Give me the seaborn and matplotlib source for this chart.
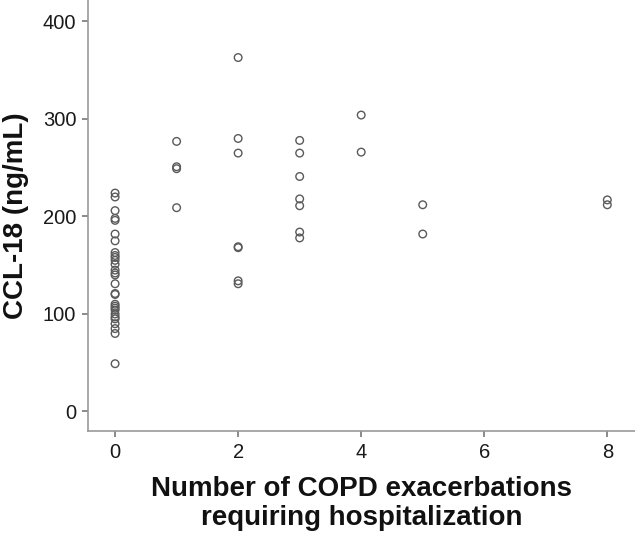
import matplotlib
matplotlib.use("Agg")
import matplotlib.pyplot as plt
import seaborn as sns
import pandas as pd

exac_0 = [224, 220, 206, 198, 196, 182, 175, 163, 160, 158, 155, 151, 145, 142, 140,
          131, 121, 120, 110, 108, 106, 104, 100, 97, 95, 90, 85, 80, 49]
exac_1 = [277, 251, 249, 209]
exac_2 = [363, 280, 265, 169, 168, 134, 131]
exac_3 = [278, 265, 241, 218, 211, 184, 178]
exac_4 = [304, 266]
exac_5 = [212, 182]
exac_8 = [217, 212]

groups = {0: exac_0, 1: exac_1, 2: exac_2, 3: exac_3, 4: exac_4, 5: exac_5, 8: exac_8}
rows = [(k, v) for k, vals in groups.items() for v in vals]
df = pd.DataFrame(rows, columns=["exacerbations", "ccl18"])

sns.set_style("white")
plt.rcParams['font.family'] = ['Liberation Sans', 'DejaVu Sans']

fig = plt.figure(figsize=(6.35, 5.36), dpi=100)
ax = fig.add_axes([0.1386, 0.195, 0.8614, 0.805])

sns.scatterplot(data=df, x="exacerbations", y="ccl18", ax=ax,
                marker="o", s=30, facecolor="none", edgecolor="#5a5a5a",
                linewidth=1.0)

ax.set_xlim(-0.44, 8.45)
ax.set_ylim(-20.5, 422)
ax.set_xticks([0, 2, 4, 6, 8])
ax.set_yticks([0, 100, 200, 300, 400])

for side in ["top", "right"]:
    ax.spines[side].set_visible(False)
for side in ["left", "bottom"]:
    ax.spines[side].set_color("#999999")
    ax.spines[side].set_linewidth(1.2)

ax.tick_params(axis="both", which="major", direction="out", length=4.5, width=1.2,
               color="#777777", labelsize=14.5, labelcolor="#1a1a1a", pad=4,
               left=True, bottom=True)

ax.set_xlabel("Number of COPD exacerbations\nrequiring hospitalization",
              fontsize=20, fontweight="bold", color="#111111", linespacing=1.15, labelpad=10)
ax.set_ylabel("CCL-18 (ng/mL)", fontsize=20, fontweight="bold", color="#111111", labelpad=10)

fig.savefig("out.png", dpi=100)
